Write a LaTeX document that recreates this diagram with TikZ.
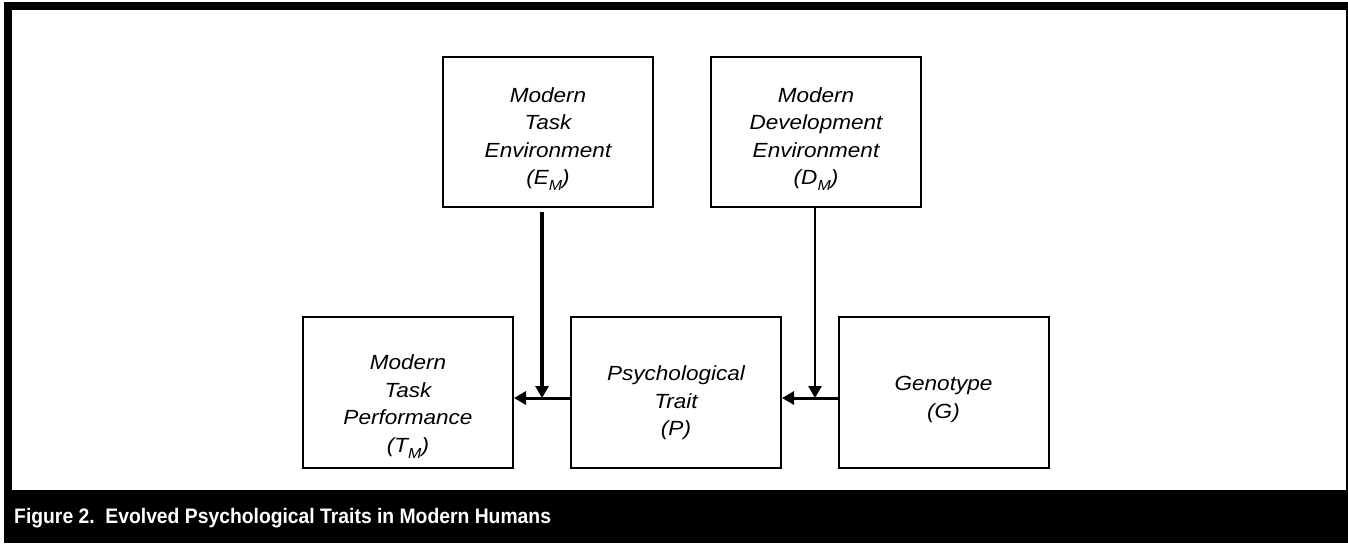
\documentclass[tikz,border=0pt]{standalone}
\usepackage{fontspec}
\setmainfont{Liberation Sans}
% box labels are set a little wide, the caption a little narrow
\newfontfamily\labelfont[FakeStretch=1.1]{Liberation Sans}
\newfontfamily\captionfont[FakeStretch=0.92]{Liberation Sans}
\usetikzlibrary{arrows.meta,calc}
% lowered, smaller index letter for the variable names
\newcommand\lowsub[1]{\raisebox{-0.55ex}{\fontsize{14.5}{14.5}\selectfont #1}}

\begin{document}
\begin{tikzpicture}[x=1pt,y=-1pt,
  box/.style={draw=black,line width=2pt,minimum width=210pt,minimum height=150pt,inner sep=0pt},
  boxtext/.style={font=\labelfont\fontsize{20.5}{27.5}\selectfont\itshape,align=center,inner sep=0pt},
  link/.style={line width=3pt,-{Triangle[length=12pt,width=13pt]}},
  captiontext/.style={font=\captionfont\fontsize{21}{24}\selectfont\bfseries,text=white,inner sep=0pt,anchor=base west}]

% page, black frame and caption band
\useasboundingbox (0,0) rectangle (1348,543);
\fill[white] (0,0) rectangle (1348,543);
\fill[black] (4,2) rectangle (1348,543);
\fill[white] (12,10) rectangle (1346,490);

% boxes
\node[box] (em) at (548,132) {};
\node[box] (dm) at (816,132) {};
\node[box,minimum height=151pt] (tm) at (408,392.5) {};
\node[box,minimum height=151pt] (p)  at (676,392.5) {};
\node[box,minimum height=151pt] (g)  at (943.5,392.5) {};

% box labels
\node[boxtext] (em-t) at (548,139) {Modern\\Task\\Environment\\(E\lowsub{M})};
\node[boxtext] (dm-t) at (816,139) {Modern\\Development\\Environment\\(D\lowsub{M})};
\node[boxtext] (tm-t) at (408,406.5) {Modern\\Task\\Performance\\(T\lowsub{M})};
\node[boxtext] (p-t)  at (676,403) {Psychological\\Trait\\(P)};
\node[boxtext] (g-t)  at (943.5,399.5) {Genotype\\(G)};

% junction points where the environment arrows meet the causal chain
\coordinate (jt) at (542,398);
\coordinate (jp) at (815,398);

% connectors
\draw[link] (p.west |- jt) -- (tm.east |- jt);
\draw[link] (g.west |- jp) -- (p.east |- jp);
\draw[link,line width=4pt,shorten <=4pt] (em.south -| jt) -- (jt);
\draw[link,line width=2.7pt] (dm.south -| jp) -- (jp);

% caption
\node[captiontext] (cap) at (14,523) {Figure 2.~~Evolved Psychological Traits in Modern Humans};
\end{tikzpicture}
\end{document}
